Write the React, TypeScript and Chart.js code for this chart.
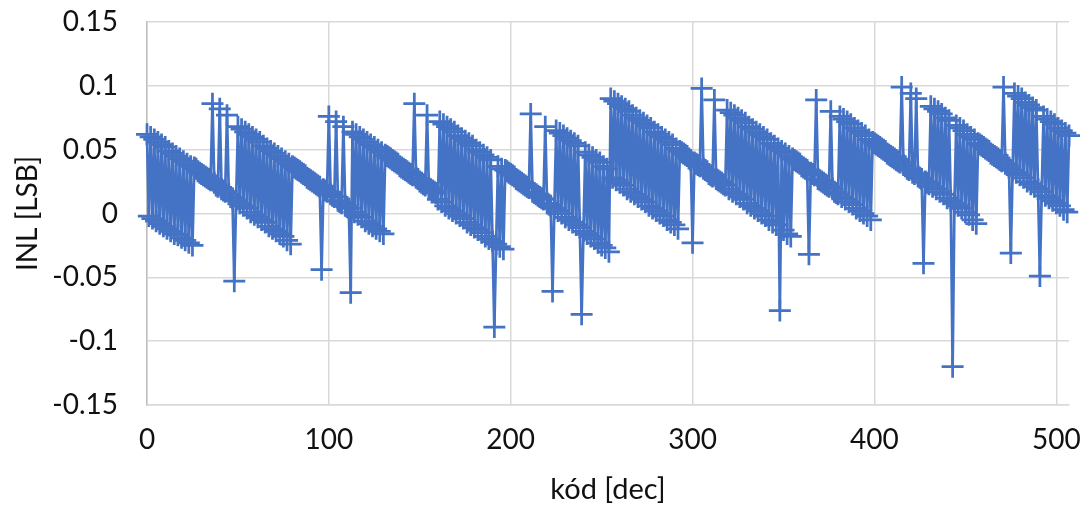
import React, { useEffect, useRef } from "react";
import { Chart, registerables } from "chart.js";

Chart.register(...registerables);

// INL [LSB] for each code (kód) 0 … 507
const INL: number[] = [
  0.062, -0.002, 0.060, -0.004, 0.058, -0.006, 0.056, -0.008, 0.054, -0.010,
  0.052, -0.012, 0.049, -0.014, 0.047, -0.016, 0.045, -0.017, 0.043, -0.019,
  0.041, -0.021, 0.039, -0.023, 0.037, -0.025, 0.036, 0.035, 0.033, 0.032,
  0.031, 0.030, 0.029, 0.028, 0.027, 0.026, 0.086, 0.024, 0.022, 0.021,
  0.082, 0.019, 0.018, 0.017, 0.077, 0.015, 0.013, 0.012, -0.053, 0.010,
  0.068, 0.008, 0.066, 0.006, 0.064, 0.004, 0.062, 0.001, 0.060, -0.001,
  0.058, -0.003, 0.056, -0.005, 0.053, -0.007, 0.051, -0.010, 0.049, -0.012,
  0.047, -0.014, 0.045, -0.016, 0.043, -0.018, 0.041, -0.021, 0.039, -0.024,
  0.037, 0.036, 0.035, 0.034, 0.033, 0.032, 0.031, 0.030, 0.028, 0.027,
  0.026, 0.025, 0.024, 0.023, 0.022, 0.021, -0.044, 0.019, 0.018, 0.017,
  0.076, 0.015, 0.014, 0.013, 0.072, 0.010, 0.009, 0.008, 0.068, 0.006,
  0.005, 0.004, -0.062, 0.064, 0.001, 0.062, -0.001, 0.060, -0.003, 0.058,
  -0.006, 0.056, -0.008, 0.054, -0.010, 0.052, -0.012, 0.050, -0.014, 0.048,
  -0.016, 0.046, 0.045, 0.044, 0.043, 0.042, 0.041, 0.040, 0.039, 0.037,
  0.036, 0.035, 0.034, 0.033, 0.032, 0.031, 0.030, 0.086, 0.028, 0.027,
  0.025, 0.024, 0.023, 0.022, 0.077, 0.020, 0.019, 0.018, 0.017, 0.016,
  0.011, 0.072, 0.009, 0.070, 0.006, 0.068, 0.004, 0.066, 0.002, 0.064,
  0.000, 0.061, -0.002, 0.059, -0.004, 0.057, -0.007, 0.055, -0.009, 0.053,
  -0.011, 0.050, -0.013, 0.048, -0.015, 0.046, -0.018, 0.044, -0.020, 0.042,
  -0.022, -0.089, -0.024, 0.037, -0.026, 0.035, -0.028, 0.034, 0.033, 0.032,
  0.031, 0.030, 0.029, 0.027, 0.026, 0.025, 0.024, 0.023, 0.022, 0.021,
  0.020, 0.078, 0.017, 0.016, 0.015, 0.014, 0.013, 0.012, 0.011, 0.068,
  0.008, 0.007, 0.006, -0.061, 0.004, 0.065, 0.002, 0.063, 0.000, 0.061,
  -0.003, 0.059, -0.005, 0.057, -0.007, 0.055, -0.009, 0.053, -0.011, -0.079,
  -0.014, 0.048, -0.016, 0.046, -0.018, 0.044, -0.020, 0.042, -0.023, 0.040,
  -0.025, 0.037, -0.027, 0.035, -0.030, 0.090, 0.028, 0.088, 0.026, 0.086,
  0.024, 0.084, 0.022, 0.082, 0.019, 0.080, 0.017, 0.077, 0.015, 0.075,
  0.013, 0.073, 0.011, 0.071, 0.009, 0.069, 0.006, 0.067, 0.004, 0.064,
  0.002, 0.062, 0.000, 0.060, -0.002, 0.058, -0.005, 0.056, -0.007, 0.054,
  -0.009, 0.051, -0.012, 0.049, 0.048, 0.047, 0.046, 0.045, 0.043, 0.042,
  -0.023, 0.040, 0.039, 0.038, 0.037, 0.098, 0.035, 0.034, 0.033, 0.031,
  0.030, 0.029, 0.089, 0.027, 0.026, 0.025, 0.024, 0.023, 0.022, 0.081,
  0.019, 0.079, 0.017, 0.077, 0.015, 0.075, 0.013, 0.073, 0.011, 0.071,
  0.008, 0.068, 0.006, 0.066, 0.004, 0.064, 0.002, 0.062, 0.000, 0.060,
  -0.002, 0.058, -0.005, 0.055, -0.007, 0.053, -0.009, 0.051, -0.076, 0.049,
  -0.013, 0.047, -0.016, 0.045, -0.018, 0.043, 0.042, 0.041, 0.040, 0.039,
  0.037, 0.036, 0.035, 0.034, -0.032, 0.032, 0.031, 0.030, 0.089, 0.027,
  0.026, 0.025, 0.024, 0.023, 0.022, 0.021, 0.080, 0.019, 0.017, 0.016,
  0.015, 0.076, 0.013, 0.074, 0.011, 0.072, 0.009, 0.070, 0.007, 0.067,
  0.004, 0.065, 0.002, 0.063, 0.000, 0.061, -0.002, 0.058, -0.005, 0.056,
  0.055, 0.054, 0.053, 0.052, 0.051, 0.050, 0.049, 0.047, 0.046, 0.045,
  0.044, 0.043, 0.042, 0.041, 0.040, 0.099, 0.038, 0.037, 0.035, 0.034,
  0.094, 0.032, 0.031, 0.090, 0.029, 0.028, 0.027, -0.039, 0.025, 0.024,
  0.023, 0.084, 0.021, 0.082, 0.019, 0.080, 0.017, 0.078, 0.015, 0.075,
  0.012, 0.073, 0.010, -0.120, 0.008, 0.069, 0.006, 0.067, 0.004, 0.065,
  0.001, 0.062, -0.001, 0.060, -0.005, 0.058, -0.008, 0.055, 0.054, 0.053,
  0.052, 0.051, 0.050, 0.049, 0.047, 0.046, 0.045, 0.044, 0.043, 0.042,
  0.041, 0.099, 0.039, 0.038, 0.036, -0.031, 0.034, 0.094, 0.032, 0.092,
  0.030, 0.090, 0.028, 0.087, 0.025, 0.085, 0.023, 0.083, 0.021, 0.081,
  0.019, -0.049, 0.017, 0.076, 0.014, 0.074, 0.012, 0.072, 0.010, 0.070,
  0.008, 0.067, 0.006, 0.065, 0.003, 0.063, 0.001, 0.061,
];

// codes are simply the index of each INL sample
const CODES: number[] = INL.map((_, i) => i);

const X_MIN = 0;
const X_MAX = 507;
const X_TICKS: number[] = [0, 100, 200, 300, 400, 500];
const X_TICK_LABELS: string[] = ["0", "100", "200", "300", "400", "500"];

const Y_MIN = -0.15;
const Y_MAX = 0.15;
const Y_TICKS: number[] = [-0.15, -0.1, -0.05, 0, 0.05, 0.1, 0.15];
const Y_TICK_LABELS: string[] = ["-0.15", "-0.1", "-0.05", "0", "0.05", "0.1", "0.15"];

const X_TITLE = "kód [dec]";
const Y_TITLE = "INL [LSB]";

const W = 1091;
const H = 509;

export default function App() {
  const ref = useRef<HTMLCanvasElement>(null);

  useEffect(() => {
    if (!ref.current) return;
    const font = { family: "Lato, 'Open Sans', sans-serif", size: 28 };
    const titleFont = { family: "Lato, 'Open Sans', sans-serif", size: 29 };
    const textColor = "#111111";
    const gridColor = "#D9D9D9";

    const chart = new Chart(ref.current, {
      type: "line",
      data: {
        datasets: [
          {
            data: INL.map((v, i) => ({ x: CODES[i], y: v })),
            borderColor: "#4472C4",
            backgroundColor: "#4472C4",
            borderWidth: 2.75,
            pointStyle: "cross",
            pointRadius: 11,
            pointBorderWidth: 2.75,
            pointBorderColor: "#4472C4",
            pointHoverRadius: 11,
            fill: false,
            tension: 0,
            clip: false,
          } as any,
        ],
      },
      options: {
        responsive: false,
        animation: false,
        events: [],
        layout: { padding: { left: 0, right: 22, top: 22, bottom: 0 } },
        plugins: {
          legend: { display: false },
          tooltip: { enabled: false },
          title: { display: false },
        },
        scales: {
          x: {
            type: "linear",
            min: X_MIN,
            max: X_MAX,
            afterBuildTicks: (s: any) => {
              s.ticks = X_TICKS.map((v) => ({ value: v }));
            },
            afterFit: (s: any) => {
              s.height = 104;
              s.paddingLeft = 0;
              s.paddingRight = 0;
              s.paddingTop = 0;
              s.paddingBottom = 0;
            },
            ticks: {
              font,
              color: textColor,
              padding: 18,
              maxRotation: 0,
              callback: (_v: any, i: number) => X_TICK_LABELS[i],
            },
            grid: { color: gridColor, lineWidth: 1.5, drawTicks: false },
            border: { color: gridColor, width: 1.5 },
            title: {
              display: true,
              text: X_TITLE,
              font: titleFont,
              color: textColor,
              padding: { top: 0, bottom: 2 },
            },
          },
          y: {
            type: "linear",
            min: Y_MIN,
            max: Y_MAX,
            afterBuildTicks: (s: any) => {
              s.ticks = Y_TICKS.map((v) => ({ value: v }));
            },
            afterFit: (s: any) => {
              s.width = 147;
              s.paddingLeft = 0;
              s.paddingRight = 0;
              s.paddingTop = 0;
              s.paddingBottom = 0;
            },
            ticks: {
              font,
              color: textColor,
              padding: 29,
              callback: (_v: any, i: number) => Y_TICK_LABELS[i],
            },
            grid: { color: gridColor, lineWidth: 1.5, drawTicks: false },
            border: { color: "#BFBFBF", width: 1.5 },
            title: {
              display: true,
              text: Y_TITLE,
              font,
              color: textColor,
              padding: { top: 11, bottom: 0 },
            },
          },
        },
      },
    });
    return () => chart.destroy();
  }, []);

  return (
    <div
      style={{
        position: "fixed",
        left: 0,
        top: 0,
        width: W,
        height: H,
        background: "#ffffff",
      }}
    >
      <canvas ref={ref} width={W} height={H} style={{ width: W, height: H, display: "block" }} />
    </div>
  );
}
